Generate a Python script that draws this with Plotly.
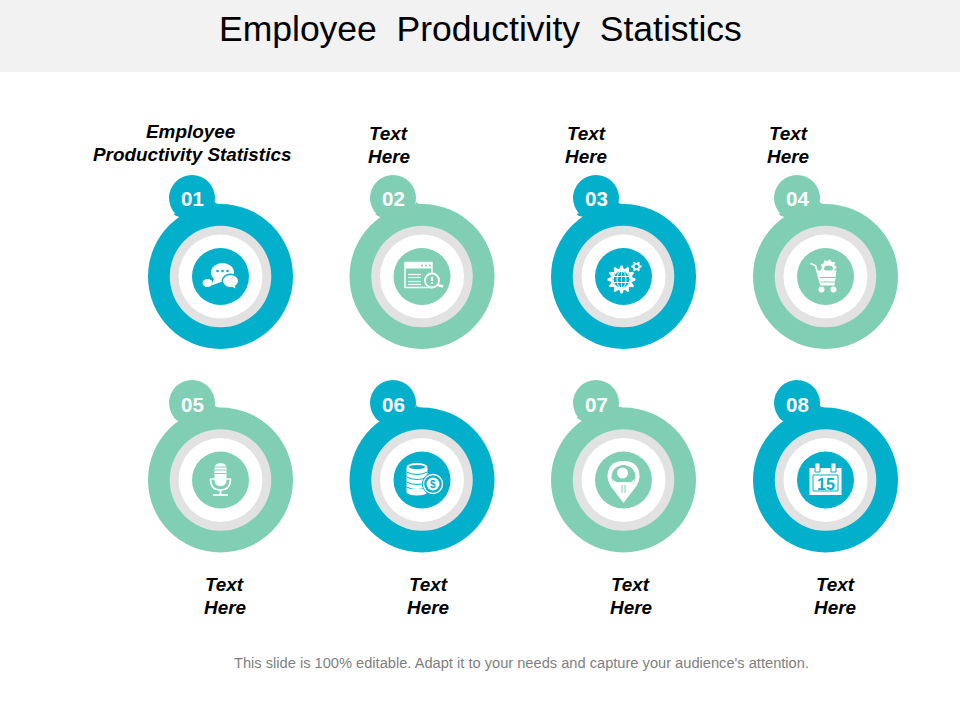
import math
import plotly.graph_objects as go

TITLE = "Employee\u00a0 Productivity\u00a0 Statistics"
FOOTER = "This slide is 100% editable. Adapt it to your needs and capture your audience's attention."
NUMBERS = ["01", "02", "03", "04", "05", "06", "07", "08"]
RING_X = [220.5, 422, 623.5, 825.5, 220.5, 422, 623.5, 825.5]
RING_Y = [276.5, 276.5, 276.5, 276.5, 480, 480, 480, 480]
BADGE_X = [192, 393, 596, 797, 192, 393, 596, 797]
BADGE_Y = [198, 198, 198, 198, 403, 403, 403, 403]
NUMBER_Y = [198, 198, 198, 198, 404, 404, 404, 404]
BLUE, GREEN, GREY = "#02B0CC", "#80CFB5", "#E2E2E2"
RING_COLORS = [BLUE, GREEN, BLUE, GREEN, GREEN, BLUE, GREEN, BLUE]
LABELS = [["Employee", "Productivity Statistics"]] + [["Text", "Here"]] * 7
LABEL_X = [[190, 192], [388.5, 388.5], [586, 585.5], [788, 787.5],
           [224.5, 224.5], [428, 428], [630.5, 630.5], [835.5, 835]]
LABEL_Y = [[131, 154], [133, 156], [133, 156], [133, 156],
           [584, 607], [584, 607], [584, 607], [584, 607]]
DIAMETERS = [145, 101.5, 84, 57]

fig = go.Figure()
shapes = []
W = "#FFFFFF"


def circ(cx, cy, rx, ry=None, fill=W, line=None, lw=0):
    ry = rx if ry is None else ry
    shapes.append(dict(type="circle", x0=cx - rx, x1=cx + rx, y0=cy - ry, y1=cy + ry,
                       fillcolor=fill, line=dict(color=line or fill, width=lw)))


def rect(x0, y0, x1, y1, fill=W, line=None, lw=0):
    shapes.append(dict(type="rect", x0=x0, x1=x1, y0=y0, y1=y1, fillcolor=fill,
                       line=dict(color=line or fill, width=lw)))


def path(d, fill=None, line=None, lw=0):
    s = dict(type="path", path=d, line=dict(color=line or "rgba(0,0,0,0)", width=lw))
    s["fillcolor"] = fill if fill else "rgba(0,0,0,0)"
    shapes.append(s)


def seg(x0, y0, x1, y1, color=W, lw=1.2):
    shapes.append(dict(type="line", x0=x0, x1=x1, y0=y0, y1=y1, line=dict(color=color, width=lw)))


def gear(cx, cy, r_out, r_in, teeth, fill=W):
    pts = []
    n = teeth * 4
    for i in range(n):
        a = 2 * math.pi * (i - 0.5) / n
        r = r_out if i % 4 in (0, 1) else r_in
        pts.append((cx + r * math.cos(a), cy + r * math.sin(a)))
    path("M" + " L".join(f"{x:.2f},{y:.2f}" for x, y in pts) + " Z", fill=fill)


def icon_chat(x, y, c):
    circ(x + 2, y - 4, 11.5, 9.5)
    path(f"M{x-6},{y+1} L{x-9},{y+9} L{x+2},{y+5} Z", fill=W)
    circ(x + 10, y + 4.5, 9, 7.5, fill=c)
    circ(x + 10, y + 4.5, 7.5, 6)
    path(f"M{x+9},{y+9} L{x+15},{y+12} L{x+14},{y+8} Z", fill=W)
    circ(x - 13, y + 6.5, 5, 4)
    for dx in (-3, 2, 7):
        circ(x + dx, y - 5.5, 1.3, fill=c)


def icon_window(x, y, c):
    rect(x - 17, y - 14, x + 10, y + 11, fill="rgba(0,0,0,0)", line=W, lw=1.4)
    rect(x - 17, y - 14, x + 10, y - 8)
    for dx in (1, 5, 9):
        circ(x + dx - 1, y - 11, 1, fill=c)
    for dy in (-2, 1, 5, 8):
        seg(x - 14, y + dy, x - 1, y + dy)
    seg(x + 14, y + 8, x + 21, y + 10, lw=2.6)
    circ(x + 10, y + 4, 7, fill=c, line=W, lw=1.8)
    seg(x + 10, y + 0.5, x + 10, y + 4.5, lw=2)
    circ(x + 10, y + 6.5, 1)


def icon_gears(x, y, c):
    gear(x - 2, y + 3, 14, 11, 12)
    circ(x - 2, y + 3, 9, fill=c)
    circ(x - 2, y + 3, 8.5, fill=c, line=W, lw=1)
    seg(x - 10.5, y, x + 6.5, y, W, 1)
    seg(x - 10.5, y + 6, x + 6.5, y + 6, W, 1)
    seg(x - 2, y - 5.5, x - 2, y + 11.5, W, 1)
    circ(x - 2, y + 3, 4.5, 8.5, fill="rgba(0,0,0,0)", line=W, lw=1)
    gear(x + 13, y - 10, 5.2, 3.6, 6)
    circ(x + 13, y - 10, 2, fill=c)


def icon_cart(x, y, c):
    path(f"M{x-15},{y-13} L{x-10},{y-11} L{x-5},{y+7}", line=W, lw=1.6)
    gear(x + 3, y - 9, 8, 6.5, 9)
    circ(x + 3, y - 8, 4.5, 3, fill=c)
    path(f"M{x-8},{y-6} L{x+11},{y-6} L{x+9},{y+9} L{x-5},{y+9} Z", fill=W)
    seg(x - 6, y + 1, x + 10, y + 1, c, 1)
    seg(x - 5, y + 5.5, x + 9.5, y + 5.5, c, 1)
    circ(x - 4, y + 13, 3)
    circ(x + 8, y + 13, 3)


def icon_mic(x, y, c):
    path(f"M{x-6},{y-11} Q{x-6},{y-17} {x},{y-17} Q{x+6},{y-17} {x+6},{y-11} L{x+6},{y} "
         f"Q{x+6},{y+6} {x},{y+6} Q{x-6},{y+6} {x-6},{y} Z", fill=W)
    for dy in (-13, -10, -6.5):
        seg(x - 6, y + dy, x + 6, y + dy, c, 1)
    path(f"M{x-10},{y-1} Q{x-10},{y+10} {x},{y+10} Q{x+10},{y+10} {x+10},{y-1}", line=W, lw=1.6)
    seg(x - 10.5, y - 1, x + 10.5, y - 1, W, 1.4)
    seg(x, y + 10, x, y + 15, W, 1.8)
    seg(x - 7.5, y + 15, x + 7.5, y + 15, W, 1.6)


def icon_coins(x, y, c):
    rect(x - 15.5, y - 12, x + 5.5, y + 12)
    circ(x - 5, y - 13, 10.5, 4, fill=W)
    circ(x - 5, y - 13, 8, 2, fill=c)
    for dy in (-8, -3, 2, 7):
        path(f"M{x-15.5},{y+dy} Q{x-5},{y+dy+5} {x+5.5},{y+dy}", line=c, lw=1)
    circ(x - 5, y + 12, 10.5, 3.5)
    circ(x + 11, y + 4, 11, fill=c)
    circ(x + 11, y + 4, 9.5, fill=c, line=W, lw=1.4)
    circ(x + 11, y + 4, 6.5)


def icon_pin(x, y, c):
    path(f"M{x},{y+23} L{x-13},{y+6} Q{x-16},{y+1} {x-16},{y-3} "
         f"Q{x-16},{y-19} {x},{y-19} Q{x+16},{y-19} {x+16},{y-3} Q{x+16},{y+1} {x+13},{y+6} Z", fill=W)
    circ(x, y - 3, 12, fill=c)
    circ(x - 1, y - 7, 5.5)
    path(f"M{x-12},{y-2} Q{x-9},{y+3} {x-3},{y+2} L{x+3},{y+2} Q{x+9},{y+3} {x+12},{y-2} "
         f"L{x+9},{y+6} L{x},{y+15} L{x-9},{y+6} Z", fill=W)
    seg(x - 1.5, y + 5, x - 1.5, y + 13, c, 1)
    seg(x + 1.5, y + 5, x + 1.5, y + 13, c, 1)


def icon_calendar(x, y, c):
    rect(x - 16, y - 12, x + 16, y + 15)
    rect(x - 12.5, y - 5, x + 12.5, y + 11, fill=W, line=c, lw=1)
    for dx in (-8, 8):
        rect(x + dx - 2.5, y - 17, x + dx + 2.5, y - 8, fill=W, line=c, lw=1)


ICONS = [icon_chat, icon_window, icon_gears, icon_cart, icon_mic, icon_coins, icon_pin, icon_calendar]

fig.add_trace(go.Scatter(x=RING_X, y=RING_Y, mode="markers", hoverinfo="skip",
                         marker=dict(size=DIAMETERS[0], color=RING_COLORS, line=dict(width=0))))
fig.add_trace(go.Scatter(x=BADGE_X, y=BADGE_Y, mode="markers", hoverinfo="skip",
                         marker=dict(size=46, color=RING_COLORS, line=dict(width=0))))
fig.add_trace(go.Scatter(x=RING_X, y=RING_Y, mode="markers", hoverinfo="skip",
                         marker=dict(size=DIAMETERS[1], color=GREY, line=dict(width=0))))
fig.add_trace(go.Scatter(x=RING_X, y=RING_Y, mode="markers", hoverinfo="skip",
                         marker=dict(size=DIAMETERS[2], color=W, line=dict(width=0))))
fig.add_trace(go.Scatter(x=RING_X, y=RING_Y, mode="markers", hoverinfo="skip",
                         marker=dict(size=DIAMETERS[3], color=RING_COLORS, line=dict(width=0))))

for rx, ry, col, fn in zip(RING_X, RING_Y, RING_COLORS, ICONS):
    fn(rx, ry, col)
    # small fillets joining the badge to the ring
    path(f"M{rx-6},{ry-75.5} Q{rx-5.5},{ry-72.6} {rx-1},{ry-72.4} L{rx-8},{ry-66} Z", fill=col)
    path(f"M{rx-47},{ry-62.5} Q{rx-44},{ry-59.5} {rx-41},{ry-60} L{rx-36},{ry-66} Z", fill=col)

shapes.insert(0, dict(type="rect", x0=0, x1=960, y0=0, y1=72, fillcolor="#F2F2F2",
                      line=dict(width=0), layer="below"))

ann = [dict(x=480.5, y=29, text=TITLE, font=dict(size=35.5, color="#000000")),
       dict(x=521.5, y=663, text=FOOTER, font=dict(size=14.65, color="#7F7F7F"))]
for lines, xs, ys in zip(LABELS, LABEL_X, LABEL_Y):
    for t, x, y in zip(lines, xs, ys):
        ann.append(dict(x=x, y=y, text=f"<b><i>{t}</i></b>", font=dict(size=18.9, color="#000000")))
for t, x, y in zip(NUMBERS, BADGE_X, NUMBER_Y):
    ann.append(dict(x=x, y=y, text=f"<b>{t}</b>", font=dict(size=20.5, color=W)))
ann.append(dict(x=RING_X[7], y=RING_Y[7] + 4, text="<b>15</b>", font=dict(size=16, color=BLUE)))
ann.append(dict(x=RING_X[5] + 11, y=RING_Y[5] + 4, text="<b>$</b>", font=dict(size=10, color=BLUE)))
for a in ann:
    a.update(xref="x", yref="y", showarrow=False, xanchor="center", yanchor="middle")

fig.update_layout(
    width=960, height=720, margin=dict(l=0, r=0, t=0, b=0),
    paper_bgcolor=W, plot_bgcolor=W, showlegend=False,
    font=dict(family="Liberation Sans, Arial, sans-serif"),
    xaxis=dict(range=[0, 960], visible=False, fixedrange=True),
    yaxis=dict(range=[720, 0], visible=False, fixedrange=True),
    shapes=shapes, annotations=ann,
)
fig.write_html("out.html", post_script="document.body.style.margin='0';", config={"displayModeBar": False})
